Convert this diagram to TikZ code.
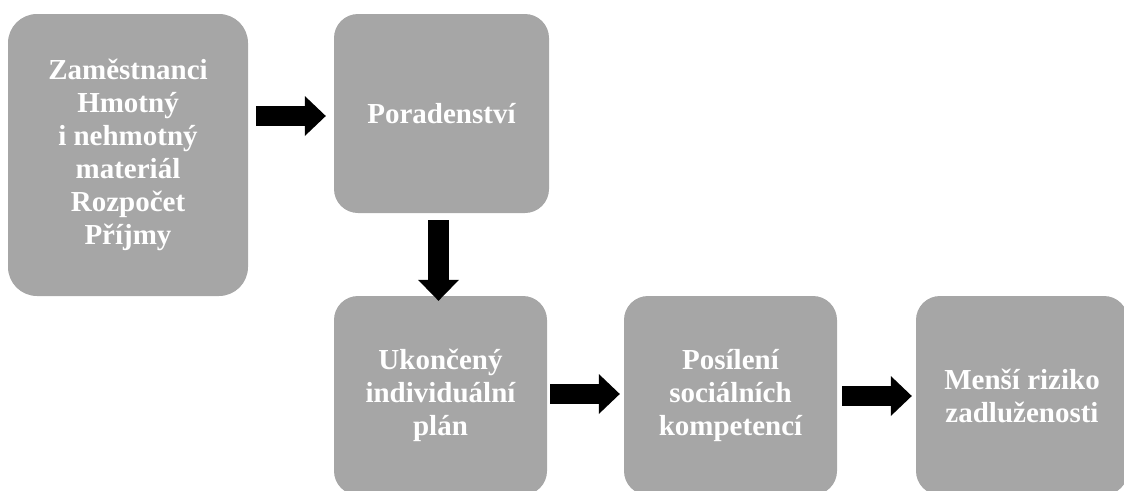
\documentclass[tikz,border=0pt]{standalone}
\usepackage{fontspec}
\setmainfont{Liberation Serif}
\usetikzlibrary{arrows.meta,calc}
\definecolor{boxgray}{HTML}{A6A6A6}
\tikzset{
  box/.style={draw=none, fill=boxgray, rounded corners=24pt, inner sep=0pt,
    text=white, align=center, font=\fontsize{29}{33}\selectfont\bfseries},
  bigbox/.style={box, rounded corners=29pt},
  blockarrow/.style={draw=black, line width=20pt,
    -{Triangle[width=40pt,length=21pt,line width=0pt]}},
}
\begin{document}
\begin{tikzpicture}[x=1pt,y=1pt]
  \useasboundingbox (0,0) rectangle (1124,-490);
  \clip (0,0) rectangle (1124,-490);

  % process boxes
  \node[bigbox, minimum width=240pt, minimum height=282pt] (b1) at (128,-155)
    {Zaměstnanci\\Hmotný\\i nehmotný\\materiál\\Rozpočet\\Příjmy};
  \node[box, minimum width=215pt, minimum height=199pt] (b2) at (441.5,-113.5)
    {Poradenství};
  \node[box, minimum width=213pt, minimum height=199pt] (b3) at (440.5,-395.5)
    {Ukončený\\individuální\\plán};
  \node[box, minimum width=213pt, minimum height=199pt] (b4) at (730.5,-395.5)
    {Posílení\\sociálních\\kompetencí};
  \node[box, minimum width=212pt, minimum height=199pt] (b5) at (1022,-395.5)
    {Menší riziko\\zadluženosti};

  % block arrows between the boxes
  \draw[blockarrow] ($(b1.east |- b2.west)+(8pt,-2.5pt)$) -- ($(b2.west)+(-8pt,-2.5pt)$);
  \draw[blockarrow, line width=21pt, -{Triangle[width=41pt,length=21pt,line width=0pt]}]
    ($(b2.south)+(-3pt,-7pt)$) -- ($(b3.north)+(-2pt,-5pt)$);
  \draw[blockarrow] ($(b3.east)+(3pt,1.5pt)$) -- ($(b4.west)+(-4pt,1.5pt)$);
  \draw[blockarrow] ($(b4.east)+(5pt,-0.5pt)$) -- ($(b5.west)+(-4pt,-0.5pt)$);
\end{tikzpicture}
\end{document}
